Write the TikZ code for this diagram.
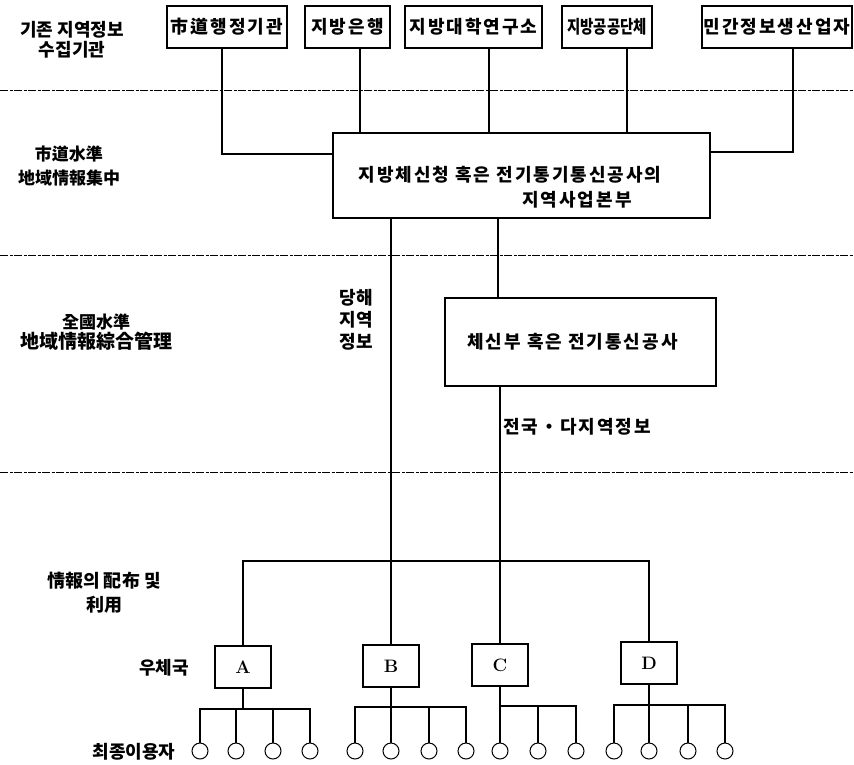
\documentclass[tikz,border=0pt]{standalone}
\usepackage{fontspec}
\newfontfamily\kr{Noto Sans CJK KR}
\newfontfamily\krs{Noto Sans CJK KR}[LetterSpace=11]
\newfontfamily\krn{Noto Sans CJK KR}[FakeStretch=0.8]
\begin{document}
\begin{tikzpicture}[x=1pt,y=-1pt,
  krtext/.style={font=\kr\bfseries\fontsize{18}{24}\selectfont, inner sep=0pt},
  krwide/.style={font=\krs\bfseries\fontsize{18}{24}\selectfont, inner sep=0pt},
  topbox/.style={draw, line width=1.5pt, inner sep=0pt, minimum height=42pt, krwide},
  bigbox/.style={draw, line width=1.5pt, inner sep=0pt, krwide},
  post/.style={draw, line width=1.5pt, inner sep=0pt, minimum width=56pt, minimum height=42pt, font=\bfseries\fontsize{18}{20}\selectfont},
  user/.style={circle, draw, line width=1pt, minimum size=16pt, inner sep=0pt},
  conn/.style={line width=1.4pt},
  sep/.style={line width=1pt, dash pattern=on 8pt off 1.5pt on 3pt off 1.5pt}
]
\useasboundingbox (0,0) rectangle (854,764);
\fill[white] (0,0) rectangle (854,764);

% separators
\draw[sep] (0,90) -- (854,90);
\draw[sep] (0,255) -- (854,255);
\draw[sep] (0,472) -- (854,472);

% left labels
\node[krtext, align=center] (l1) at (72,40) {기존 지역정보\\[-4pt]수집기관};
\node[krtext, align=center, font=\kr\bfseries\fontsize{17}{24}\selectfont] (l2) at (69,166) {市道水準\\地域情報集中};
\node[krtext, align=center] (l3) at (96,332) {{\fontsize{17}{20}\selectfont 全國水準}\\[-4pt]{\fontsize{19}{22}\selectfont 地域情報綜合管理}};
\node[krtext, align=center] (l4) at (104,593) {情報의 配布 및\\利用};
\node[krtext] (l5) at (164,668) {우체국};
\node[krtext] (l6) at (134,752) {최종이용자};

% top boxes
\node[topbox, minimum width=120pt] (b1) at (227,27) {市道행정기관};
\node[topbox, minimum width=85pt] (b2) at (347.5,27) {지방은행};
\node[topbox, minimum width=137pt] (b3) at (473.5,27) {지방대학연구소};
\node[topbox, minimum width=90pt, font=\krn\bfseries\fontsize{18}{20}\selectfont] (b4) at (607,27) {지방공공단체};
\node[topbox, minimum width=150pt] (b5) at (777,27) {민간정보생산업자};

% centre box
\node[bigbox, minimum width=377pt, minimum height=85pt] (cb) at (521.5,175.5) {};
\node[krwide] (t1) at (510,175) {지방체신청 혹은 전기통기통신공사의};
\node[krwide] (t2) at (577,200) {지역사업본부};

% second box
\node[bigbox, minimum width=271pt, minimum height=88pt] (sb) at (580.5,342) {\hspace*{-16pt}체신부 혹은 전기통신공사};

% post offices
\node[post] (A) at (243,667) {A};
\node[post] (B) at (391,666) {B};
\node[post] (C) at (500,665) {C};
\node[post] (D) at (649,663) {D};

% end users
\foreach \n/\x in {a1/200,a2/236,a3/273,a4/310,
                   b1u/355,b2u/391,b3u/429,b4u/466,
                   c1/500,c2/538,c3/576,
                   d1/614,d2/649,d3/688,d4/725}
  \node[user] (\n) at (\x,751) {};

% helper coordinates
\coordinate (k1) at (222,154);
\coordinate (k2) at (360,0);
\coordinate (k3) at (489,0);
\coordinate (k4) at (627,0);
\coordinate (k5) at (793,152);
\coordinate (lb) at (498,0);
\coordinate (bus) at (0,561);
\coordinate (ya) at (0,709);
\coordinate (yb) at (0,707);
\coordinate (yc) at (0,706);
\coordinate (yd) at (0,705);

% top connectors
\draw[conn] (b1.south -| k1) -- (k1) -- (k1 -| cb.west);
\draw[conn] (b2.south -| k2) -- (cb.north -| k2);
\draw[conn] (b3.south -| k3) -- (cb.north -| k3);
\draw[conn] (b4.south -| k4) -- (cb.north -| k4);
\draw[conn] (b5.south -| k5) -- (k5) -- (k5 -| cb.east);

% centre to lower
\draw[conn] (cb.south -| B.north) -- (B.north);
\draw[conn] (cb.south -| lb) -- (sb.north -| lb);
\draw[conn] (sb.south -| C.north) -- (C.north);
\draw[conn] (A.north) -- (A.north |- bus) -- (D.north |- bus) -- (D.north);

\node[krtext, align=center] (lab1) at (356,320) {당해\\[-2pt]지역\\[-2pt]정보};
\node[krwide, anchor=west] (lab2) at (503,427) {전국・다지역정보};

% user branches
\draw[conn] (A.south) -- (A.south |- ya);
\draw[conn] (a1.north) -- (a1.north |- ya) -- (a4.north |- ya) -- (a4.north);
\draw[conn] (a2.north) -- (a2.north |- ya);
\draw[conn] (a3.north) -- (a3.north |- ya);

\draw[conn] (B.south) -- (b2u.north);
\draw[conn] (b1u.north) -- (b1u.north |- yb) -- (b4u.north |- yb) -- (b4u.north);
\draw[conn] (b3u.north) -- (b3u.north |- yb);

\draw[conn] (C.south) -- (c1.north);
\draw[conn] (c1.north |- yc) -- (c3.north |- yc) -- (c3.north);
\draw[conn] (c2.north) -- (c2.north |- yc);

\draw[conn] (D.south) -- (d2.north);
\draw[conn] (d1.north) -- (d1.north |- yd) -- (d4.north |- yd) -- (d4.north);
\draw[conn] (d3.north) -- (d3.north |- yd);
\end{tikzpicture}
\end{document}
